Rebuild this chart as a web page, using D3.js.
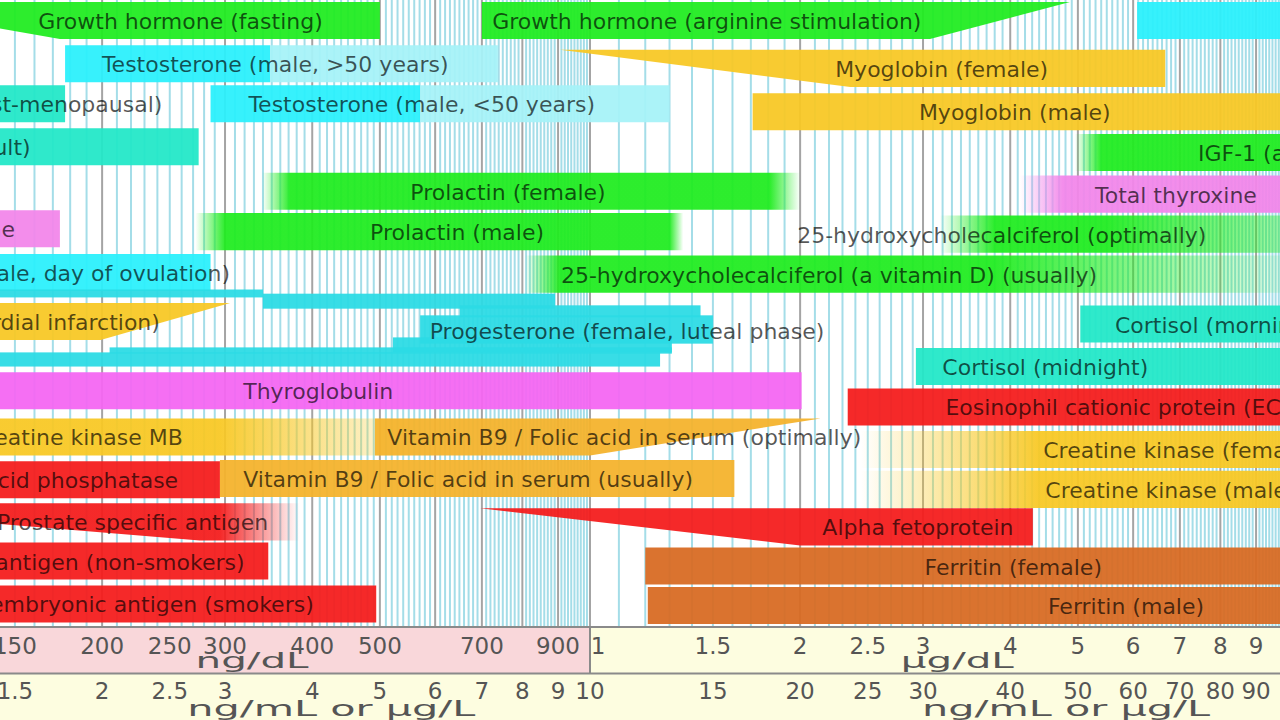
<!DOCTYPE html>
<html>
<head>
<meta charset="utf-8">
<script src="https://cdn.jsdelivr.net/npm/d3@7"></script>
<style>
  html, body { margin: 0; padding: 0; background: #fff; }
  svg { display: block; }
</style>
</head>
<body>
<div id="chart"></div>
<script>
// values in ng/mL (= µg/L); rows are lanes from the top
var names = [
  "Growth hormone (fasting)", "Growth hormone (arginine stimulation)", "",
  "Testosterone (male, >50 years)", "", "Myoglobin (female)",
  "Estradiol (female, post-menopausal)", "Testosterone (male, <50 years)", "", "Myoglobin (male)",
  "Estradiol (male, adult)", "IGF-1 (adult)",
  "Prolactin (female)", "Total thyroxine",
  "Free thyroxine", "Prolactin (male)", "25-hydroxycholecalciferol (optimally)",
  "Progesterone (female, day of ovulation)", "25-hydroxycholecalciferol (a vitamin D) (usually)",
  "Myoglobin (myocardial infarction)", "Cortisol (morning)",
  "Cortisol (midnight)", "Thyroglobulin", "Eosinophil cationic protein (ECP)",
  "Creatine kinase MB", "Vitamin B9 / Folic acid in serum (optimally)", "Creatine kinase (female)",
  "Prostatic acid phosphatase", "Vitamin B9 / Folic acid in serum (usually)", "Creatine kinase (male)",
  "Prostate specific antigen", "Alpha fetoprotein",
  "Carcinoembryonic antigen (non-smokers)", "Ferritin (female)",
  "Carcinoembryonic antigen (smokers)", "Ferritin (male)"
];
var lows  = [0.87, 7.0, 60.8, 1.77, 3.48, 9.06, 0.8, 2.86, 5.71, 17.1, 0.8, 54, 3.72, 47.6, 0.8, 3.0, 38, 0.8, 9.06,
             0.8, 50.4, 29.3, 0.8, 23.4, 0.8, 4.92, 44, 0.8, 2.95, 44, 0.63, 6.96, 0.8, 12.0, 0.8, 12.1];
var highs = [5.0, 48.7, 300, 3.48, 7.38, 66.7, 1.77, 5.71, 13.0, 200, 2.75, 300, 18.1, 300, 1.74, 13.0, 55, 2.86, 38,
             3.05, 300, 300, 20.1, 300, 2.95, 21.4, 300, 2.95, 16.1, 300, 2.95, 43.1, 3.46, 300, 4.94, 300];
var rows  = [0, 0, 0, 1.04, 1.04, 1.15, 2.0, 2.0, 2.0, 2.19, 3.03, 3.17, 4.1, 4.17, 5.0, 5.07, 5.13, 6.05, 6.09,
             7.23, 7.29, 8.31, 8.89, 9.28, 10.0, 10.0, 10.3, 11.03, 11.0, 11.26, 12.04, 12.16, 12.98, 13.1, 14.01, 14.05];
var groups = ["green", "green", "cyan", "cyan", "cyanLight", "gold", "turq", "cyan", "cyanLight", "gold", "turq", "green",
              "green", "pink", "pink", "green", "green", "cyan", "green", "gold", "turq", "turq", "magenta", "red",
              "gold", "orange", "gold", "red", "orange", "gold", "red", "red", "red", "brown", "red", "brown"];
// fuzzy limits (range fades out towards these values)
var softLows  = [null, null, null, null, null, null, null, null, null, null, null, 49.5, 3.39, 41.3, null, 2.72, 31.7, null, 8.07,
                 null, null, null, null, null, null, null, 24.4, null, null, 24.4, null, null, null, null, null, null];
var softHighs = [null, null, null, null, null, null, null, null, null, null, null, null, 20.0, null, null, 13.6, 150, null, 110,
                 null, null, null, null, null, 6.0, null, null, null, null, null, 3.84, null, null, null, null, null];
// tapered ends: side and the value where the slanted edge meets the full bar
var tapers = {0: ["L", 1.74], 1: ["R", 30.7], 5: ["L", 23.6], 19: ["R", 1.99], 25: ["R", 10.0], 30: ["L", 2.76], 31: ["L", 20.0]};
var labelAt = [2.59, 14.7, null, 3.54, null, 31.9, 2.44, 5.74, null, 40.6, 1.58, 74.3, 7.63, 69.1, 1.50, 6.45, 38.9, 3.05, 22.0,
               2.42, 56.5, 44.9, 4.08, 32.3, 2.61, 11.2, 44.6, 2.57, 6.69, 44.9, 3.46, 29.5, 3.20, 40.4, 4.02, 58.6];
var labelAnchor = ["middle", "middle", "", "middle", "", "middle", "end", "middle", "", "middle", "end", "start",
                   "middle", "middle", "end", "middle", "middle", "end", "middle", "end", "start", "middle", "middle", "start",
                   "end", "middle", "start", "end", "middle", "start", "end", "middle", "end", "middle", "end", "middle"];

// progesterone luteal phase drawn as a stack of thin overlapping ranges
var progLows    = [0.8, 3.40, 6.51, 5.71, 5.22, 2.05, 0.8];
var progHighs   = [3.40, 8.91, 14.4, 15.0, 13.1, 13.1, 12.6];
var progTops    = [6.46, 6.56, 6.84, 7.08, 7.61, 7.85, 7.97];
var progBottoms = [6.65, 6.92, 7.13, 7.76, 7.97, 8.00, 8.31];
var progLabel = "Progesterone (female, luteal phase)", progLabelAt = 11.3, progLabelRow = 7.44;

// axis ticks
var ngdlTicks = [150, 200, 250, 300, 400, 500, 700, 900];
var ugdlTicks = [1, 1.5, 2, 2.5, 3, 4, 5, 6, 7, 8, 9];
var ngmlTicks = [1.5, 2, 2.5, 3, 4, 5, 6, 7, 8, 9, 10, 15, 20, 25, 30, 40, 50, 60, 70, 80, 90];

var colors = {
  green: "#20ec20", cyan: "#2af0fc", cyanLight: "#a6f2f8", turq: "#22e8c8", gold: "#f8c824",
  orange: "#f4b22c", pink: "#f286ea", magenta: "#f466f2", red: "#f41c1c", brown: "#d86a22", prog: "#2cdbe4"
};

var width = 1280, height = 720, plotBottom = 627;

var svg = d3.select("#chart").append("svg")
  .attr("width", width).attr("height", height)
  .style("font-family", "'DejaVu Sans', sans-serif");

var x = d3.scaleLog().domain([10, 100]).range([590, 1288]);
var y = d3.scaleLinear().domain([0, 14]).range([20.5, 603.5]);
var bh = y(0.89) - y(0);

svg.append("rect").attr("width", width).attr("height", plotBottom).attr("fill", "#fff");

// grid: minor lines every tenth of a decade unit, major on whole units
var grid = [];
[1, 10].forEach(function (dec) {
  for (var i = 10; i < 100; i++) grid.push({ v: i / 10 * dec, major: i % 10 == 0 });
});
grid.push({ v: 100, major: true });

svg.append("g").selectAll("line")
  .data(grid.filter(function (d) { return !d.major; }))
  .enter().append("line")
  .attr("x1", function (d) { return x(d.v); }).attr("x2", function (d) { return x(d.v); })
  .attr("y1", 0).attr("y2", plotBottom)
  .attr("stroke", "#a4dde8").attr("stroke-width", 2);

svg.append("g").selectAll("line")
  .data(grid.filter(function (d) { return d.major; }))
  .enter().append("line")
  .attr("x1", function (d) { return x(d.v); }).attr("x2", function (d) { return x(d.v); })
  .attr("y1", 0).attr("y2", plotBottom)
  .attr("stroke", "#a4a4a4").attr("stroke-width", 2);

var defs = svg.append("defs");
var bars = svg.append("g").attr("fill-opacity", 0.94);

names.forEach(function (name, i) {
  var x0 = x(softLows[i] != null ? softLows[i] : lows[i]);
  var x1 = x(softHighs[i] != null ? softHighs[i] : highs[i]);
  var top = y(rows[i]) - bh / 2, bot = top + bh;
  var pts = [[x0, top], [x1, top], [x1, bot], [x0, bot]];
  var tp = tapers[i];
  if (tp && tp[0] == "L") pts = [[x(lows[i]), top], [x1, top], [x1, bot], [x(tp[1]), bot]];
  if (tp && tp[0] == "R") pts = [[x0, top], [x(highs[i]), top], [x(tp[1]), bot], [x0, bot]];

  var fill = colors[groups[i]];
  if (softLows[i] != null || softHighs[i] != null) {
    var id = "fade" + i;
    var g = defs.append("linearGradient").attr("id", id)
      .attr("gradientUnits", "userSpaceOnUse")
      .attr("x1", x0).attr("x2", x1).attr("y1", 0).attr("y2", 0);
    var span = x1 - x0;
    var stops = [
      [0, softLows[i] != null ? 0 : 1],
      [(x(lows[i]) - x0) / span, 1],
      [(x(highs[i]) - x0) / span, 1],
      [1, softHighs[i] != null ? 0 : 1]
    ];
    stops.forEach(function (s) {
      g.append("stop").attr("offset", Math.max(0, Math.min(1, s[0])))
        .attr("stop-color", fill).attr("stop-opacity", s[1]);
    });
    fill = "url(#" + id + ")";
  }
  bars.append("path")
    .attr("d", "M" + pts.map(function (p) { return p.join(","); }).join("L") + "Z")
    .attr("fill", fill);
});

bars.selectAll("rect.prog")
  .data(progLows.map(function (lo, i) { return { lo: lo, hi: progHighs[i], t: progTops[i], b: progBottoms[i] }; }))
  .enter().append("rect").attr("class", "prog")
  .attr("x", function (d) { return x(d.lo); })
  .attr("width", function (d) { return x(d.hi) - x(d.lo); })
  .attr("y", function (d) { return y(d.t); })
  .attr("height", function (d) { return y(d.b) - y(d.t); })
  .attr("fill", colors.prog);

var labels = svg.append("g")
  .attr("font-size", 22).attr("fill", "#000").attr("fill-opacity", 0.66);

names.forEach(function (name, i) {
  if (!name || labelAt[i] == null) return;
  labels.append("text")
    .attr("x", x(labelAt[i])).attr("y", y(rows[i]) + 1)
    .attr("dominant-baseline", "central")
    .attr("text-anchor", labelAnchor[i])
    .text(name);
});
labels.append("text")
  .attr("x", x(progLabelAt)).attr("y", y(progLabelRow) + 1)
  .attr("dominant-baseline", "central").attr("text-anchor", "middle")
  .text(progLabel);

// axis panels
var ax = svg.append("g");
ax.append("rect").attr("x", 0).attr("y", plotBottom).attr("width", x(10)).attr("height", 46).attr("fill", "#f9d7da");
ax.append("rect").attr("x", x(10)).attr("y", plotBottom).attr("width", width - x(10)).attr("height", 46).attr("fill", "#fdfde0");
ax.append("rect").attr("x", 0).attr("y", 674).attr("width", width).attr("height", 46).attr("fill", "#fdfde0");
ax.append("line").attr("x1", 0).attr("x2", width).attr("y1", plotBottom).attr("y2", plotBottom).attr("stroke", "#8a8a8a").attr("stroke-width", 2);
ax.append("line").attr("x1", 0).attr("x2", width).attr("y1", 673.5).attr("y2", 673.5).attr("stroke", "#8a8a8a").attr("stroke-width", 2);
ax.append("line").attr("x1", x(10)).attr("x2", x(10)).attr("y1", plotBottom).attr("y2", 673).attr("stroke", "#8a8a8a").attr("stroke-width", 2);

var tickStyle = function (sel) {
  sel.attr("text-anchor", "middle").attr("font-size", 23).attr("fill", "#555");
};

ax.selectAll("text.ngdl").data(ngdlTicks).enter().append("text").attr("class", "ngdl")
  .attr("x", function (d) { return x(d / 100); }).attr("y", 654).text(function (d) { return d; })
  .call(tickStyle);
ax.selectAll("text.ugdl").data(ugdlTicks).enter().append("text").attr("class", "ugdl")
  .attr("x", function (d) { return x(d * 10) + (d == 1 ? 8 : 0); }).attr("y", 654).text(function (d) { return d; })
  .call(tickStyle);
ax.selectAll("text.ngml").data(ngmlTicks).enter().append("text").attr("class", "ngml")
  .attr("x", function (d) { return x(d); }).attr("y", 699).text(function (d) { return d; })
  .call(tickStyle);

// unit captions sit under the middle of each scale part
var units = [["ng/dL", x(3.28), 668, 113], ["µg/dL", x(33.6), 668, 113],
             ["ng/mL or µg/L", x(4.26), 716, 288], ["ng/mL or µg/L", x(48.1), 716, 288]];
ax.selectAll("text.unit").data(units).enter().append("text").attr("class", "unit")
  .attr("x", function (d) { return d[1]; }).attr("y", function (d) { return d[2]; })
  .attr("text-anchor", "middle").attr("font-size", 22).attr("fill", "#555")
  .attr("textLength", function (d) { return d[3]; }).attr("lengthAdjust", "spacingAndGlyphs")
  .text(function (d) { return d[0]; });
</script>
</body>
</html>
